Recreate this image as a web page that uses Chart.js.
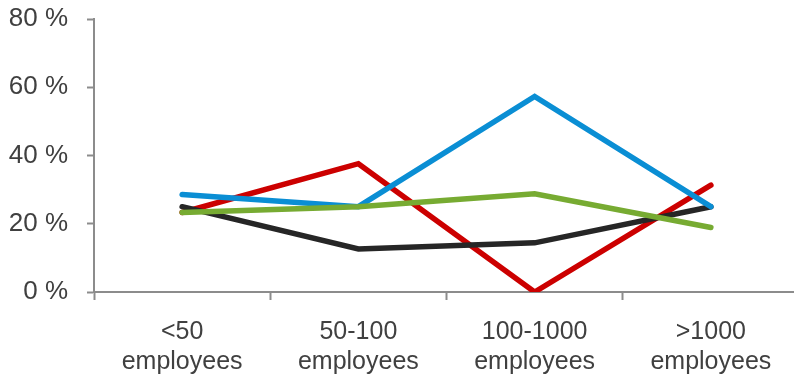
<!DOCTYPE html>
<html>
<head>
<meta charset="utf-8">
<script src="https://cdn.jsdelivr.net/npm/chart.js@4.4.0/dist/chart.umd.min.js"></script>
<style>
  html, body { margin: 0; padding: 0; background: #fff; overflow: hidden; }
</style>
</head>
<body>
<canvas id="chart" width="800" height="377"></canvas>
<script>
const categories = [["<50", "employees"], ["50-100", "employees"], ["100-1000", "employees"], [">1000", "employees"]];
const yTicks = [0, 20, 40, 60, 80];

const blueValues = [28.6, 25, 57.3, 25];
const redValues = [23.3, 37.6, 0, 31.3];
const blackValues = [25, 12.6, 14.4, 25];
const greenValues = [23.3, 25, 28.8, 18.9];

const axisGray = "#8c8c8c";
const labelColor = "#404040";

function line(values, color, order) {
  return {
    data: values,
    borderColor: color,
    backgroundColor: color,
    borderWidth: 5.5,
    borderCapStyle: "round",
    borderJoinStyle: "miter",
    pointRadius: 0,
    fill: false,
    tension: 0,
    order: order,
  };
}

// fixed axis sizes, no extra padding around the plot
function noPad(scale) {
  scale.paddingTop = 0;
  scale.paddingBottom = 0;
  scale.paddingLeft = 0;
  scale.paddingRight = 0;
}

const ctx = document.getElementById("chart").getContext("2d");

new Chart(ctx, {
  type: "line",
  data: {
    labels: categories,
    datasets: [
      line(redValues, "#cc0000", 3),
      line(blackValues, "#262626", 2),
      line(blueValues, "#0a8ed4", 1),
      line(greenValues, "#77ab32", 0),
    ],
  },
  options: {
    responsive: false,
    animation: false,
    layout: { padding: { top: 19, right: 1, left: 0, bottom: 0 } },
    plugins: {
      legend: { display: false },
      tooltip: { enabled: false },
    },
    scales: {
      x: {
        offset: true,
        grid: {
          offset: true,
          drawOnChartArea: false,
          drawTicks: true,
          tickLength: 8,
          tickColor: axisGray,
          tickWidth: 2,
        },
        border: { color: axisGray, width: 2 },
        ticks: {
          color: labelColor,
          font: { family: "Liberation Sans, Arial, sans-serif", size: 25 },
          padding: 17,
          maxRotation: 0,
          autoSkip: false,
        },
        afterFit(scale) { scale.height = 85; noPad(scale); },
      },
      y: {
        min: 0,
        max: 80,
        afterBuildTicks(scale) { scale.ticks = yTicks.map(v => ({ value: v })); },
        grid: {
          drawOnChartArea: false,
          drawTicks: true,
          tickLength: 7,
          tickColor: axisGray,
          tickWidth: 2,
        },
        border: { color: axisGray, width: 2 },
        ticks: {
          color: labelColor,
          font: { family: "Liberation Sans, Arial, sans-serif", size: 26 },
          padding: 19,
          callback: v => v + " %",
        },
        afterFit(scale) { scale.width = 94; noPad(scale); },
      },
    },
  },
});
</script>
</body>
</html>
